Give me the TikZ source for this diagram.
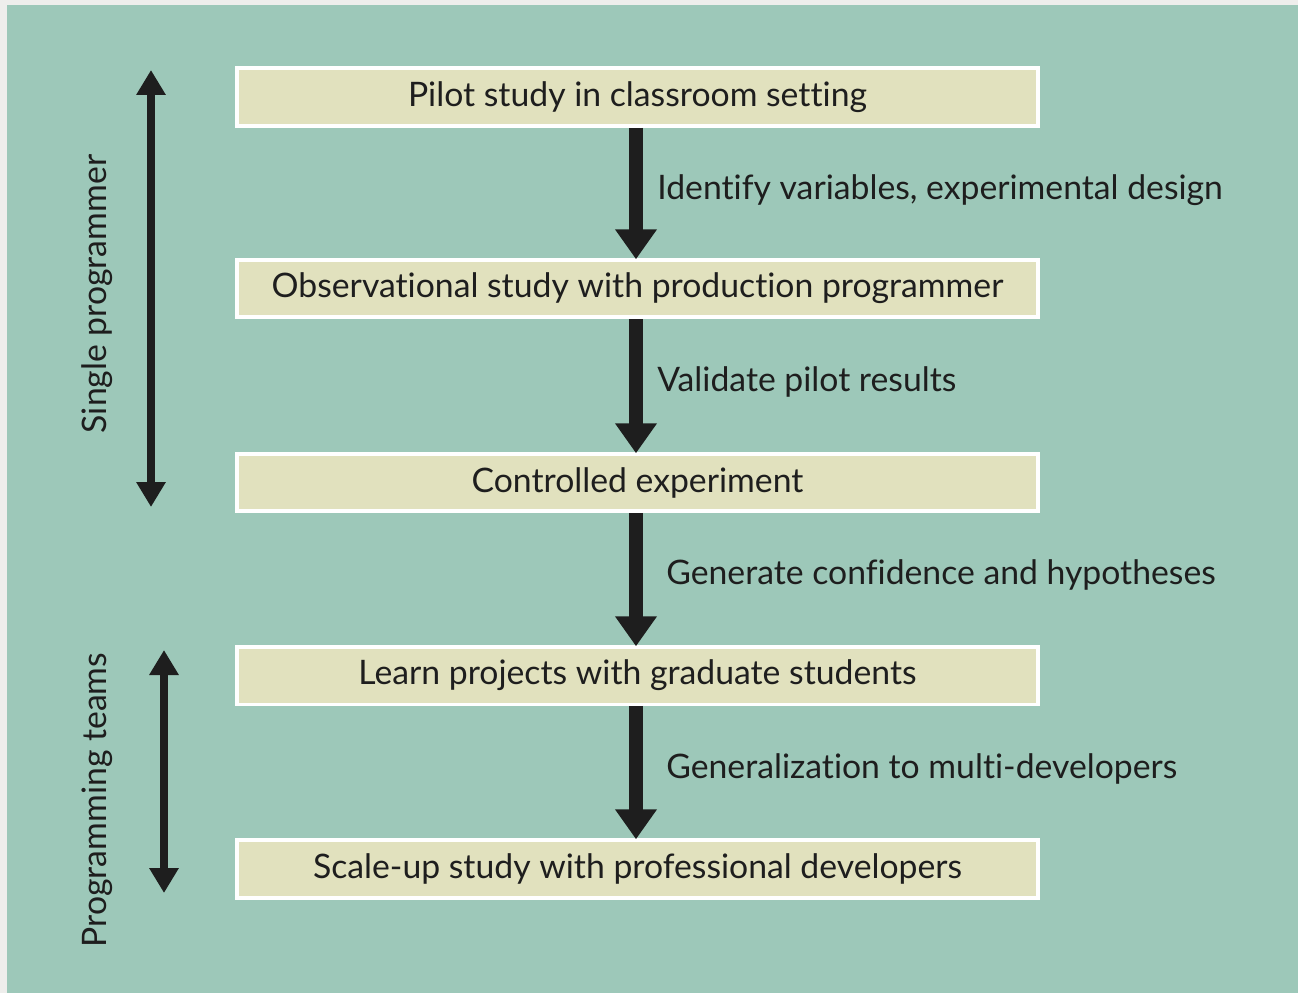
\documentclass[tikz,border=0pt]{standalone}
\usepackage{fontspec}
\setmainfont[Ligatures=NoCommon]{Lato}
\usetikzlibrary{arrows.meta}

\definecolor{paneTeal}{HTML}{9DC8B9}
\definecolor{boxBeige}{HTML}{E1E1BE}
\definecolor{edgeGrey}{HTML}{EEEEEC}
\definecolor{inkDark}{HTML}{1E1E1E}

\begin{document}
\begin{tikzpicture}[
							x=0.02cm, y=-0.02cm,
							font=\fontsize{19.2}{22}\selectfont,
							text=inkDark,
							stepBox/.style={rectangle, draw=white, fill=boxBeige, line width=0.08cm, inner sep=0pt, minimum width=16.02cm, minimum height=1.16cm},
							stepArrow/.style={draw=inkDark, line width=0.28cm, -{Triangle[width=0.8cm, length=0.6cm]}, shorten >=-1pt},
							spanArrow/.style={draw=inkDark, line width=0.16cm, {Triangle[width=0.56cm, length=0.5cm]}-{Triangle[width=0.56cm, length=0.5cm]}},
							stepLabel/.style={anchor=west, inner sep=0pt},
							sideLabel/.style={rotate=90, inner sep=0pt}
						]
						
						% background panel with thin paper edge
						\fill[edgeGrey] (0,0) rectangle (1298,993);
						\fill[paneTeal] (7,5) rectangle (1298,993);
						\useasboundingbox (0,0) rectangle (1298,993);
						
						\node[stepBox] (pilot) at (637.5, 97.0) {Pilot study in classroom setting};
						\node[stepBox] (observe) at (637.5, 288.5) {Observational study with production programmer};
						\node[stepBox] (controlled) at (637.5, 482.5) {Controlled experiment};
						\node[stepBox] (learn) at (637.5, 675.5) {Learn projects with graduate students};
						\node[stepBox] (scaleup) at (637.5, 868.5) {Scale-up study with professional developers};
						
						\draw [stepArrow] ([xshift=-0.03cm]pilot.south) to ([xshift=-0.03cm]observe.north);
						\draw [stepArrow] ([xshift=-0.03cm]observe.south) to ([xshift=-0.03cm]controlled.north);
						\draw [stepArrow] ([xshift=-0.03cm]controlled.south) to ([xshift=-0.03cm]learn.north);
						\draw [stepArrow] ([xshift=-0.03cm]learn.south) to ([xshift=-0.03cm]scaleup.north);
						
						\node[stepLabel] (identify) at (657, 190) {Identify variables, experimental design};
						\node[stepLabel] (validate) at (657, 382) {Validate pilot results};
						\node[stepLabel] (generate) at (666, 575) {Generate confidence and hypotheses};
						\node[stepLabel] (generalize) at (666, 769) {Generalization to multi-developers};
						
						% spans on the left
						\coordinate (singleTop) at (151, 70);
						\coordinate (singleBottom) at (151, 507);
						\coordinate (teamsTop) at (164, 650);
						\coordinate (teamsBottom) at (164, 893);
						\draw [spanArrow] (singleTop) to (singleBottom);
						\draw [spanArrow] (teamsTop) to (teamsBottom);
						
						\node[sideLabel] (single) at (97, 294) {Single programmer};
						\node[sideLabel] (teams) at (97, 800) {Programming teams};
					\end{tikzpicture}
\end{document}
